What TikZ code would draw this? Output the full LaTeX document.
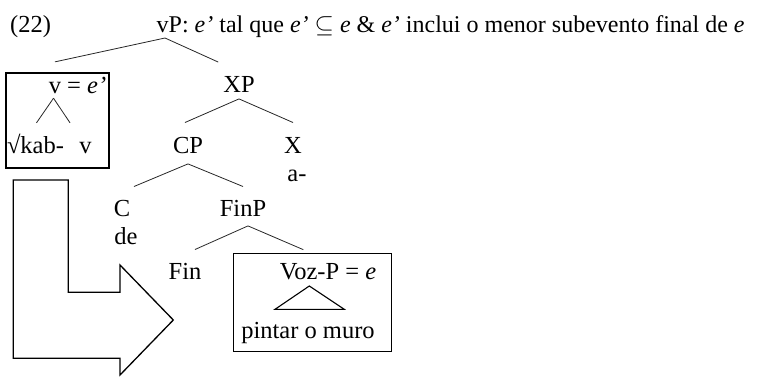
\documentclass[tikz,border=0pt]{standalone}
\usepackage{fontspec}
\setmainfont{Liberation Serif}
\usetikzlibrary{shapes.geometric, arrows}
\tikzstyle{cat} = [inner sep=0pt, text height=17pt, text depth=0pt]
\tikzstyle{box} = [rectangle, draw=black, line width=1.3pt, inner sep=0pt]
\tikzstyle{branch} = [line width=0.8pt, draw=black!85]
\tikzstyle{bigarrow} = [line width=1.3pt, line join=miter]

\begin{document}
\begin{tikzpicture}[x=1pt, y=-1pt, node distance=63pt, font=\fontsize{24.5}{29}\selectfont]
\useasboundingbox (0,0) rectangle (765,376);

\node (num) [anchor=base west, inner sep=0pt] at (10,32.5) {(22)};
\node (title) [anchor=base west, inner sep=0pt, font=\fontsize{24}{29}\selectfont] at (156.5,32.5) {vP: \textit{e’} tal que \textit{e’} $\subseteq$ \textit{e} \& \textit{e’} inclui o menor subevento final de \textit{e}};
\coordinate (vp) at (165,38);

\node (vbox) [box, minimum width=103pt, minimum height=95pt] at (57.5,120.5) {};
\draw [branch] (vp)--([xshift=-2.5pt, yshift=10.5pt]vbox.north);

\node (ve) [cat] at (77.5,84.5) {v = \textit{e’}};
\node (kab) [cat, below of=ve, node distance=60pt, xshift=-42pt] {√kab-};
\node (vv) [cat, below of=ve, node distance=60pt, xshift=8pt] {v};
\draw [branch] ([xshift=-24pt, yshift=-5pt]ve.south)--([xshift=1pt, yshift=13pt]kab.north);
\draw [branch] ([xshift=-24pt, yshift=-5pt]ve.south)--([xshift=-15.5pt, yshift=13pt]vv.north);

\node (XP) [cat] at (239,84.2) {XP};
\draw [branch] (vp)--([xshift=-20.7pt, yshift=13.4pt]XP.north);

\node (CP) [cat, below of=XP, xshift=-51pt, yshift=2pt] {CP};
\node (X) [cat, below of=XP, xshift=54pt, yshift=2pt] {X};
\node (a) [cat, below of=X, node distance=28pt, xshift=4pt] {a-};
\draw [branch] ([yshift=-6pt]XP.south)--([xshift=-3pt, yshift=14pt]CP.north);
\draw [branch] ([yshift=-6pt]XP.south)--([yshift=14pt]X.north);

\node (C) [cat, below of=CP, xshift=-66pt] {C};
\node (de) [cat, below of=C, node distance=28pt, xshift=4pt] {de};
\node (FinP) [cat, below of=CP, xshift=55pt] {FinP};
\draw [branch] ([yshift=-10pt]CP.south)--([xshift=12pt, yshift=13pt]C.north);
\draw [branch] ([yshift=-10pt]CP.south)--([yshift=13pt]FinP.north);

\node (Fin) [cat, below of=FinP, xshift=-58pt] {Fin};
\node (vozbox) [box, minimum width=157.7pt, minimum height=98.4pt, below of=FinP, node distance=94.3pt, xshift=69.6pt] {};
\node (voz) [cat, below of=FinP, xshift=85pt] {Voz-P = \textit{e}};
\node (pintar) [cat, below of=voz, node distance=58.6pt, xshift=-20pt] {pintar o muro};
\draw [branch] ([xshift=5pt, yshift=-9pt]FinP.south)--([xshift=10pt, yshift=13pt]Fin.north);
\draw [branch] ([xshift=5pt, yshift=-9pt]FinP.south)--([xshift=-9.3pt, yshift=3pt]vozbox.north);
\draw [line width=1.1pt] (309.3,286)--(275,309.3)--(344.3,309.3)--cycle;

\draw [bigarrow] (13.3,180)--(68.3,180)--(68.3,292.3)--(120,292.3)--(120,265)--(173.3,320)--(120,375)--(120,358.3)--(13.3,358.3)--cycle;
\end{tikzpicture}
\end{document}
